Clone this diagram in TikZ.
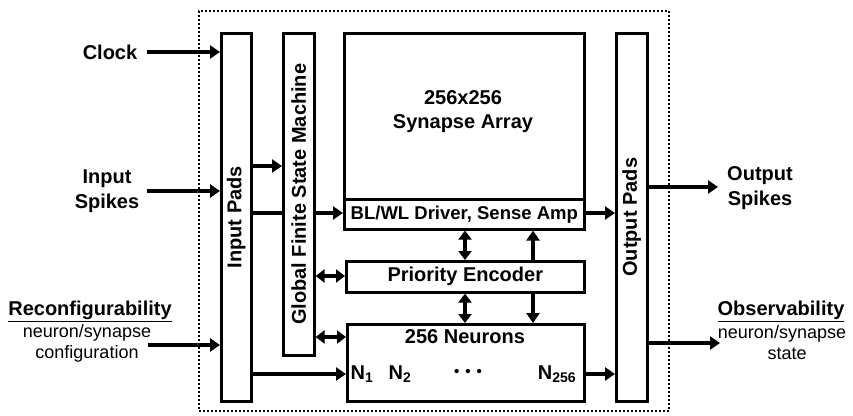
\documentclass[tikz,border=0pt]{standalone}
\usepackage{fontspec}
\setmainfont{Liberation Sans}
\usetikzlibrary{arrows.meta,calc}
\begin{document}
\begin{tikzpicture}[x=1pt,y=-1pt,
  box/.style={draw, line width=2.6pt, anchor=north west, inner sep=0pt},
  arr/.style={line width=4pt, -{Triangle[length=10pt,width=13pt]}},
  darr/.style={line width=4pt, {Triangle[length=9pt,width=13pt]}-{Triangle[length=9pt,width=13pt]}},
  plain/.style={line width=4pt},
  lbl/.style={font=\fontsize{20}{24}\selectfont\bfseries, align=center, inner sep=0pt},
  sml/.style={font=\fontsize{18}{21}\selectfont, align=center, inner sep=0pt}]
\useasboundingbox (0,0) rectangle (853,415);
% chip boundary
\node[draw, line width=2pt, dash pattern=on 2pt off 2pt, anchor=north west,
      minimum width=470pt, minimum height=400pt, inner sep=0pt] (chip) at (198,10) {};
% blocks
\node[box, minimum width=30pt, minimum height=368pt] (inpads) at (220,32) {};
\node[lbl, rotate=90] at (inpads.center) {Input Pads};
\node[box, minimum width=31pt, minimum height=322pt] (fsm) at (282,32) {};
\node[lbl, rotate=90] at (fsm.center) {Global Finite State Machine};
\node[box, minimum width=240pt, minimum height=166pt] (syn) at (343,32) {};
\node[lbl] at (463,112) {256x256\\[0pt]Synapse Array};
\node[box, minimum width=240pt, minimum height=30pt] (drv) at (343,198) {};
\node[lbl, font=\fontsize{18.5}{22}\selectfont\bfseries] at (drv.center) {BL/WL Driver, Sense Amp};
\node[box, minimum width=238pt, minimum height=31pt] (prio) at (345,260) {};
\node[lbl] at (prio.center) {Priority Encoder};
\node[box, minimum width=237pt, minimum height=77pt] (neur) at (346,323) {};
\node[lbl] at (465,337) {256 Neurons};
\node[lbl] at (362,374) {N\textsubscript{1}};
\node[lbl] at (400,374) {N\textsubscript{2}};
\node[lbl] at (468,373) {\scalebox{0.75}{\textbullet}\hspace{6pt}\scalebox{0.75}{\textbullet}\hspace{6pt}\scalebox{0.75}{\textbullet}};
\node[lbl] at (557,374) {N\textsubscript{256}};
\node[box, minimum width=31pt, minimum height=368pt] (outpads) at (615,32) {};
\node[lbl, rotate=90] at (outpads.center) {Output Pads};
% external labels
\node[lbl] (clk) at (110,52) {Clock};
\node[lbl] (ins) at (107,191) {Input\\[1pt]Spikes};
\node[lbl] (rec) at (90,311) {\underline{Reconfigurability}};
\node[sml] (rec2) at (87,333) {neuron/synapse};
\node[sml] (rec3) at (87,354) {configuration};
\node[lbl] (outs) at (760,188) {Output\\[1pt]Spikes};
\node[lbl] (obs) at (781,311) {\underline{Observability}};
\node[sml] (obs2) at (782,334) {neuron/synapse};
\node[sml] (obs3) at (787,354) {state};
% free ends and levels
\coordinate (c1) at (147,52);
\coordinate (c2) at (147,191);
\coordinate (c3) at (148,345);
\coordinate (c4) at (718,187);
\coordinate (c5) at (720,343);
\coordinate (y166) at (0,166);
\coordinate (y213) at (0,213);
\coordinate (y276) at (0,276);
\coordinate (y337) at (0,337);
\coordinate (y374) at (0,374);
\coordinate (xa) at (465,0);
\coordinate (xb) at (533,0);
% connectors
\draw[arr] (c1) -- (c1 -| inpads.west);
\draw[arr] (c2) -- (c2 -| inpads.west);
\draw[arr] (c3) -- (c3 -| inpads.west);
\draw[arr] (inpads.east |- y166) -- (fsm.west |- y166);
\draw[plain] (inpads.east |- y213) -- (fsm.west |- y213);
\draw[arr] (fsm.east |- y213) -- (drv.west |- y213);
\draw[darr] (fsm.east |- y276) -- (prio.west |- y276);
\draw[darr] (fsm.east |- y337) -- (neur.west |- y337);
\draw[arr] (inpads.east |- y374) -- (neur.west |- y374);
\draw[darr] (drv.south -| xa) -- (prio.north -| xa);
\draw[darr] (prio.south -| xa) -- (neur.north -| xa);
\draw[arr] (prio.north -| xb) -- (drv.south -| xb);
\draw[arr] (prio.south -| xb) -- (neur.north -| xb);
\draw[arr] (drv.east |- y213) -- (outpads.west |- y213);
\draw[arr] (neur.east |- y374) -- (outpads.west |- y374);
\draw[arr] (outpads.east |- c4) -- (c4);
\draw[arr] (outpads.east |- c5) -- (c5);
\end{tikzpicture}
\end{document}
